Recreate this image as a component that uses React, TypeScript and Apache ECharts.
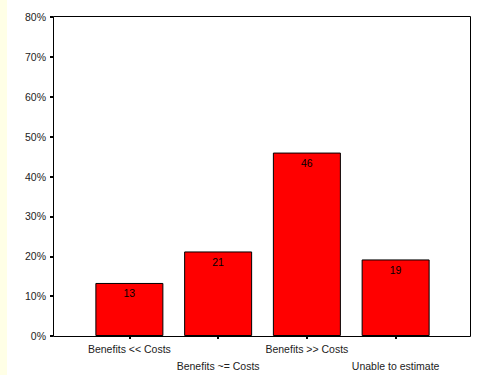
import React, { useEffect, useRef } from "react";
import * as echarts from "echarts";

const categories = ["Benefits << Costs", "Benefits ~= Costs", "Benefits >> Costs", "Unable to estimate"];
const percentValues = [13.3, 21.2, 46.0, 19.2];
const barLabels = ["13", "21", "46", "19"];
const yTicks = { min: 0, max: 80, interval: 10 };

export default function App() {
  const ref = useRef<HTMLDivElement>(null);
  useEffect(() => {
    if (!ref.current) return;
    const chart = echarts.init(ref.current, undefined, { renderer: "svg" });
    chart.setOption({
      animation: false,
      backgroundColor: "#ffffff",
      textStyle: { fontFamily: "Liberation Sans, Arial, sans-serif" },
      grid: { left: 85, right: 40, top: 17, bottom: 39 },
      graphic: [
        { type: "rect", shape: { x: 0, y: 0, width: 7, height: 375 }, style: { fill: "#FFFFE6" }, silent: true },
        {
          type: "rect",
          shape: { x: 53.5, y: 16.5, width: 417, height: 320 },
          style: { fill: "none", stroke: "#000", lineWidth: 1 },
          silent: true,
          z: 10,
        },
      ],
      xAxis: {
        type: "category",
        data: categories,
        axisLine: { show: false },
        axisTick: { show: true, alignWithLabel: true, length: 3, lineStyle: { color: "#000", width: 2 } },
        axisLabel: {
          interval: 0,
          margin: 4,
          color: "#222",
          fontSize: 10.5,
          lineHeight: 17,
          formatter: (v: string, i: number) => (i % 2 === 1 ? "\n" + v : v),
        },
        splitLine: { show: false },
      },
      yAxis: {
        type: "value",
        min: yTicks.min,
        max: yTicks.max,
        interval: yTicks.interval,
        offset: 32,
        axisLine: { show: true, lineStyle: { color: "#000", width: 1 } },
        axisTick: { show: true, length: 3, lineStyle: { color: "#000", width: 2 } },
        axisLabel: { color: "#222", fontSize: 10.5, margin: 7, formatter: "{value}%" },
        splitLine: { show: false },
      },
      series: [
        {
          type: "bar",
          data: percentValues,
          barWidth: 68,
          itemStyle: { color: "#FF0000", borderColor: "#000", borderWidth: 1 },
          label: {
            show: true,
            position: "insideTop",
            distance: 5,
            color: "#000",
            fontSize: 10.5,
            formatter: (p: any) => barLabels[p.dataIndex],
          },
        },
      ],
    });
    return () => chart.dispose();
  }, []);
  return (
    <div
      ref={ref}
      style={{ position: "fixed", left: 0, top: 0, width: 480, height: 375 }}
    />
  );
}
